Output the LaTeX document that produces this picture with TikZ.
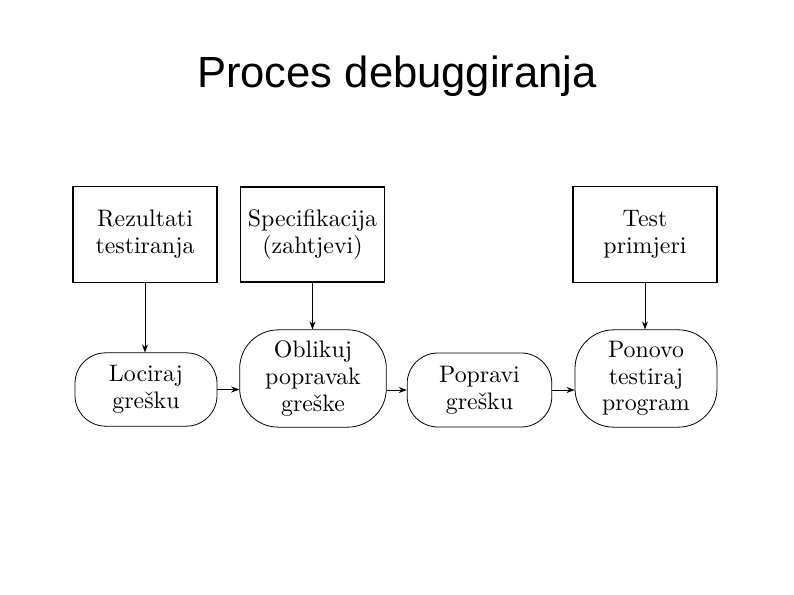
\documentclass[tikz,border=0pt]{standalone}
\usepackage{fontspec}
\newfontfamily\titlefont{Liberation Sans}
\newfontfamily\nodefont{lmroman10-regular}[Extension=.otf]
\usetikzlibrary{arrows.meta}
\begin{document}
\begin{tikzpicture}[x=0.75pt,y=-0.75pt,
  inbox/.style={draw,line width=0.9pt,rectangle,minimum width=108pt,minimum height=71.5pt,inner sep=0pt,align=center,font=\nodefont\fontsize{17.9}{20}\selectfont},
  stadium/.style={draw,line width=0.6pt,rectangle,rounded corners=23pt,inner sep=0pt,align=center,font=\nodefont\fontsize{17.9}{20}\selectfont},
  tallstadium/.style={stadium,rounded corners=29pt},
  arr/.style={line width=0.6pt,-{Stealth[length=6pt,width=4.5pt]}}]
\useasboundingbox (0,0) rectangle (794,595);
\node[font=\titlefont\fontsize{32.7}{38}\selectfont] (title) at (397,76) {Proces debuggiranja};
\node[inbox] (rez) at (145,234.5) {Rezultati\\testiranja};
\node[inbox,line width=1.4pt] (spec) at (312.5,234.5) {Specifikacija\\(zahtjevi)};
\node[inbox] (test) at (645,234.5) {Test\\primjeri};
\node[stadium,minimum width=106.5pt,minimum height=55pt] (loc) at (146,389.5) {Lociraj\\grešku};
\node[tallstadium,minimum width=110pt,minimum height=73pt] (obl) at (313,378.5) {Oblikuj\\popravak\\greške};
\node[stadium,minimum width=108.5pt,minimum height=55.5pt] (pop) at (479.5,390) {Popravi\\grešku};
\node[tallstadium,minimum width=106.5pt,minimum height=73pt] (pon) at (646,378.5) {Ponovo\\testiraj\\program};
\draw[arr] (rez.south) -- (rez.south |- loc.north);
\draw[arr] (spec.south) -- (spec.south |- obl.north);
\draw[arr] (test.south) -- (test.south |- pon.north);
\draw[arr] (loc.east) -- (loc.east -| obl.west);
\draw[arr] (obl.east |- pop.west) -- (pop.west);
\draw[arr] (pop.east) -- (pop.east -| pon.west);
\end{tikzpicture}
\end{document}
